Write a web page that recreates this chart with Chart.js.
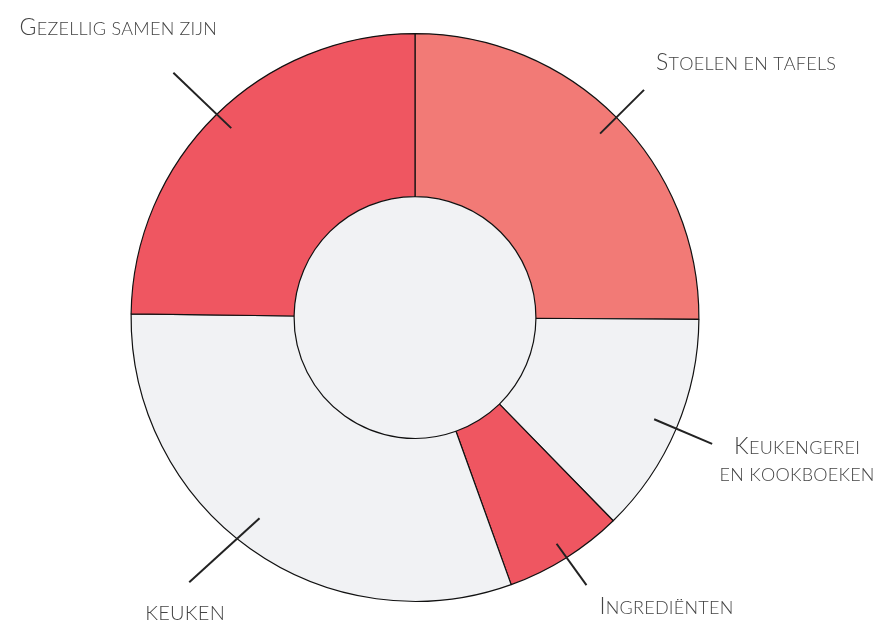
<!DOCTYPE html>
<html>
<head>
<meta charset="utf-8">
<script src="https://cdn.jsdelivr.net/npm/chart.js@4.4.1/dist/chart.umd.min.js"></script>
<style>
  html, body { margin: 0; padding: 0; background: #fff; }
  #wrap { width: 877px; height: 623px; }
</style>
</head>
<body>
<div id="wrap"><canvas id="donut"></canvas></div>
<script>
// data, clockwise from 12 o'clock
const labels = [['Stoelen en tafels'], ['Keukengerei', 'en kookboeken'], ['Ingrediënten'], ['KEUKEN'], ['Gezellig samen zijn']];
const values = [25.1, 12.6, 6.8, 30.7, 24.8];
const colors = ['#f27a76', '#f1f2f4', '#ef5661', '#f1f2f4', '#ef5661'];

// leader lines: start/end offset from the outer radius (px), start/end angle shift (deg)
const leaders = [[-23, 39, 0, 0], [-24, 39, 0, 0], [-17, 34, 0, -0.6], [-30, 64, 2.3, 5], [-20, 60, 0.5, 0]];
// label placement relative to leader end: dx, dy (baseline), align, capital size
const labelPos = [[12, -20, 'left', 23], [85, 10, 'center', 23], [13, 29, 'left', 23], [-44, 38, 'left', 20], [-55, -38, 'center', 23]];

const FAMILY = 'Lato, "Open Sans", sans-serif';

// fake small caps: real capitals big, the rest as smaller capitals
const drawSmallCaps = (ctx, text, x, y, align, bigSize) => {
  const parts = [...text].map(ch => {
    const up = ch === ch.toUpperCase() && ch !== ch.toLowerCase();
    ctx.font = `300 ${up ? bigSize : 18}px ${FAMILY}`;
    const s = ch.toUpperCase();
    return { s, font: ctx.font, w: ctx.measureText(s).width + 0.25 };
  });
  const total = parts.reduce((a, p) => a + p.w, 0);
  let cx = align === 'center' ? x - total / 2 : (align === 'right' ? x - total : x);
  ctx.textAlign = 'left';
  ctx.textBaseline = 'alphabetic';
  parts.forEach(p => {
    ctx.font = p.font;
    ctx.fillText(p.s, cx, y);
    cx += p.w;
  });
};

const holePlugin = {
  id: 'hole',
  beforeDatasetsDraw(chart) {
    const arc = chart.getDatasetMeta(0).data[0];
    if (!arc) return;
    const ctx = chart.ctx;
    ctx.save();
    ctx.beginPath();
    ctx.arc(arc.x, arc.y, arc.innerRadius, 0, Math.PI * 2);
    ctx.fillStyle = '#f1f2f4';
    ctx.fill();
    ctx.restore();
  }
};

const leaderPlugin = {
  id: 'leaders',
  afterDatasetsDraw(chart) {
    const ctx = chart.ctx;
    const meta = chart.getDatasetMeta(0);
    const rad = Math.PI / 180;
    ctx.save();
    meta.data.forEach((arc, i) => {
      const { x, y, startAngle, endAngle, outerRadius } = arc.getProps(['x', 'y', 'startAngle', 'endAngle', 'outerRadius'], true);
      const [a, b, da1, da2] = leaders[i];
      const mid = (startAngle + endAngle) / 2;
      const r1 = outerRadius + a, r2 = outerRadius + b;
      const t1 = mid + da1 * rad, t2 = mid + da2 * rad;
      const x2 = x + Math.cos(t2) * r2, y2 = y + Math.sin(t2) * r2;
      ctx.beginPath();
      ctx.moveTo(x + Math.cos(t1) * r1, y + Math.sin(t1) * r1);
      ctx.lineTo(x2, y2);
      ctx.strokeStyle = '#222';
      ctx.lineWidth = 2;
      ctx.stroke();

      const [dx, dy, align, bigSize] = labelPos[i];
      ctx.fillStyle = '#444';
      labels[i].forEach((line, k) => drawSmallCaps(ctx, line, x2 + dx, y2 + dy + k * 27, align, bigSize));
    });
    ctx.restore();
  }
};

new Chart(document.getElementById('donut'), {
  type: 'doughnut',
  data: {
    labels: labels.map(l => l.join(' ')),
    datasets: [{
      data: values,
      backgroundColor: colors,
      borderColor: '#111',
      borderWidth: 1.2,
      hoverOffset: 0
    }]
  },
  options: {
    responsive: true,
    maintainAspectRatio: false,
    animation: false,
    cutout: '42.6%',
    layout: { padding: { top: 33, bottom: 21, left: 0, right: 47 } },
    plugins: {
      legend: { display: false },
      tooltip: { enabled: false }
    }
  },
  plugins: [holePlugin, leaderPlugin]
});
</script>
</body>
</html>
